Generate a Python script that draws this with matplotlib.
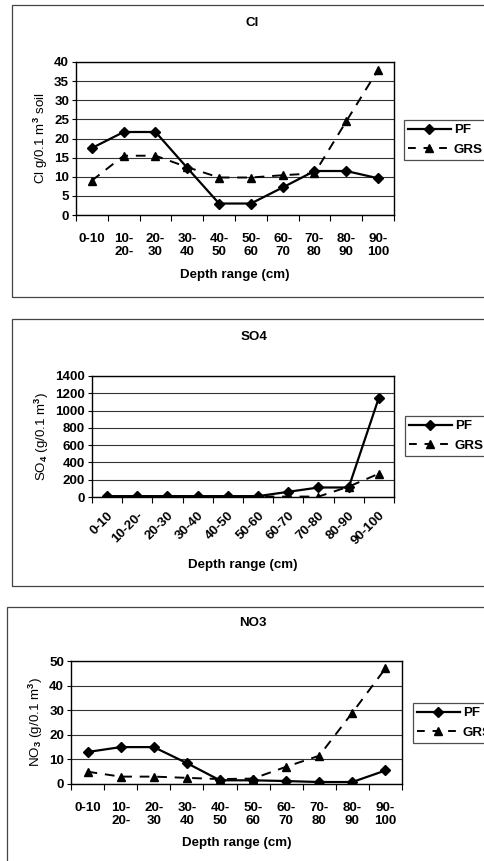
import matplotlib
matplotlib.use("Agg")
import matplotlib.pyplot as plt
from matplotlib.patches import Rectangle
from matplotlib.lines import Line2D

plt.rcParams['font.family'] = ['Liberation Sans', 'DejaVu Sans']
plt.rcParams['font.weight'] = 'bold'
plt.rcParams['mathtext.fontset'] = 'custom'
plt.rcParams['mathtext.rm'] = 'Liberation Sans:bold'
plt.rcParams['mathtext.bf'] = 'Liberation Sans:bold'
plt.rcParams['mathtext.default'] = 'rm'

depth_two_line = ['0-10', '10-\n20-', '20-\n30', '30-\n40', '40-\n50', '50-\n60',
                  '60-\n70', '70-\n80', '80-\n90', '90-\n100']
depth_rotated = ['0-10', '10-20-', '20-30', '30-40', '40-50', '50-60',
                 '60-70', '70-80', '80-90', '90-100']

cl_pf = [17.5, 21.7, 21.7, 12.3, 3.0, 3.0, 7.2, 11.5, 11.5, 9.6]
cl_grs = [9.0, 15.5, 15.5, 12.5, 9.8, 9.8, 10.4, 10.9, 24.5, 38.0]

so4_pf = [10, 10, 10, 10, 10, 10, 60, 110, 110, 1150]
so4_grs = [5, 5, 5, 5, 5, 5, 5, 5, 120, 270]

no3_pf = [13.0, 15.0, 15.0, 8.5, 1.5, 1.5, 1.2, 0.8, 0.8, 5.5]
no3_grs = [5.0, 3.0, 3.0, 2.5, 2.0, 2.2, 7.0, 11.5, 29.0, 47.0]

W, H = 485, 861
FS = 9.6
fig = plt.figure(figsize=(W / 100, H / 100), dpi=100)


def box(x0, y0, x1, y1):
    # pixel coords (top-left origin) -> figure fraction
    return [x0 / W, 1 - y1 / H, (x1 - x0) / W, (y1 - y0) / H]


def panel(frame, axrect, title, title_x, title_y, pf, grs, ymax, ystep, ylabel,
          labels, rotated, xlabel_y, leg_xy):
    fx0, fy0, fx1, fy1 = frame
    fig.add_artist(Rectangle((fx0 / W, 1 - fy1 / H), (fx1 - fx0) / W, (fy1 - fy0) / H,
                             transform=fig.transFigure, fill=False,
                             edgecolor='#444444', linewidth=0.9))
    ax = fig.add_axes(box(*axrect))
    x = list(range(len(pf)))
    ax.plot(x, pf, color='black', linewidth=1.6, marker='D', markersize=5)
    ax.plot(x, grs, color='black', linewidth=1.4, linestyle=(0, (5, 4)),
            marker='^', markersize=6)
    ax.set_xlim(-0.5, len(pf) - 0.5)
    ax.set_ylim(0, ymax)
    ax.set_yticks(range(0, ymax + 1, ystep))
    ax.yaxis.grid(True, color='#333333', linewidth=0.8)
    ax.set_axisbelow(True)
    ax.tick_params(axis='y', labelsize=FS, length=3, width=0.8, pad=2)
    ax.set_xticks(x)
    ax.set_xticks([i - 0.5 for i in range(len(pf) + 1)], minor=True)
    ax.tick_params(axis='x', which='major', length=0, labelsize=FS, pad=13)
    ax.tick_params(axis='x', which='minor', length=4, width=0.8)
    if rotated:
        ax.set_xticklabels(labels, rotation=45, ha='right', rotation_mode='anchor')
        ax.tick_params(axis='x', which='major', pad=9)
    else:
        ax.set_xticklabels(labels, linespacing=1.15)
    for s in ax.spines.values():
        s.set_linewidth(1.0)
    ax.set_ylabel(ylabel, fontsize=FS, labelpad=3)
    fig.text(title_x / W, 1 - title_y / H, title, ha='center', va='center', fontsize=FS)
    fig.text((axrect[0] + axrect[2]) / 2 / W, 1 - xlabel_y / H, 'Depth range (cm)',
             ha='center', va='center', fontsize=FS)
    handles = [Line2D([], [], color='black', linewidth=1.6, marker='D', markersize=5),
               Line2D([], [], color='black', linewidth=1.4, linestyle=(0, (4, 4)),
                      marker='^', markersize=6)]
    leg = fig.legend(handles, ['PF', 'GRS'], loc='upper left',
                     bbox_to_anchor=(leg_xy[0] / W, 1 - leg_xy[1] / H),
                     fontsize=FS, frameon=True, fancybox=False, handlelength=3.2,
                     handletextpad=0.25, borderpad=0.3, labelspacing=0.55,
                     borderaxespad=0, numpoints=1)
    leg.get_frame().set_edgecolor('#222222')
    leg.get_frame().set_linewidth(0.9)
    return ax


panel((12, 5, 490, 297), (76, 62, 394, 215), 'Cl', 252, 23, cl_pf, cl_grs, 40, 5,
      'Cl g/0.1 m$^3$ soil', depth_two_line, False, 275, (404, 120))
panel((12, 319, 490, 586), (92, 376, 394, 497), 'SO4', 254, 337, so4_pf, so4_grs, 1400, 200,
      'SO$_4$ (g/0.1 m$^3$)', depth_rotated, True, 565, (405, 416))
panel((7, 607, 490, 870), (71, 661, 402, 784), 'NO3', 253, 623, no3_pf, no3_grs, 50, 10,
      'NO$_3$ (g/0.1 m$^3$)', depth_two_line, False, 843, (413, 703))

fig.savefig('out.png', dpi=100)
